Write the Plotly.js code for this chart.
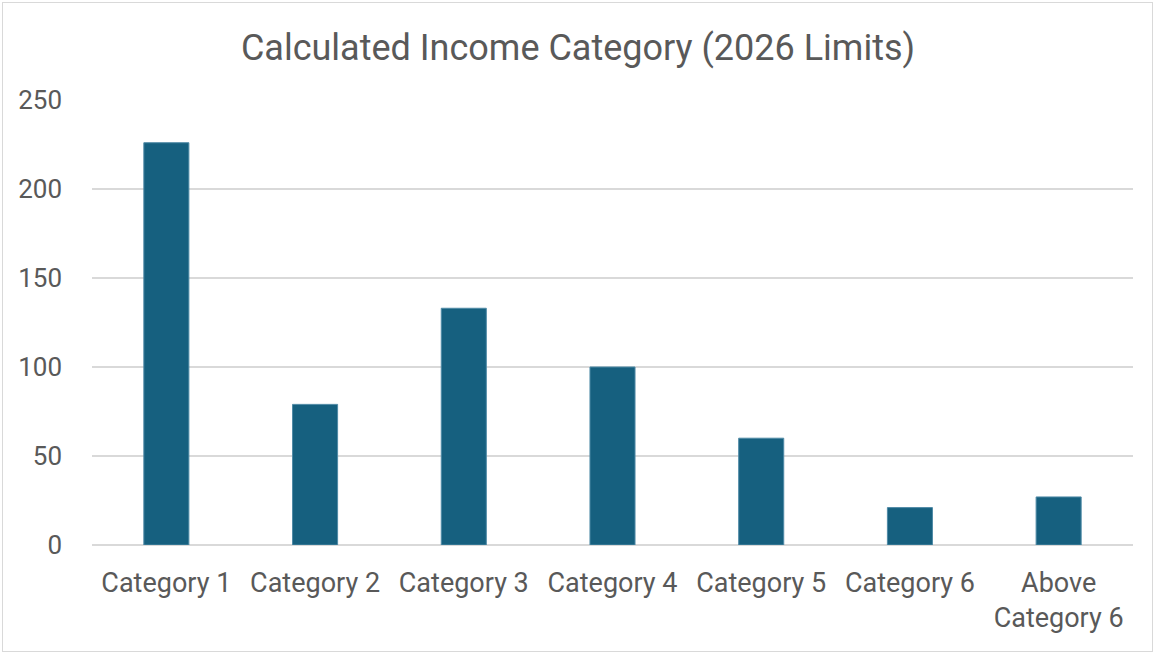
<!DOCTYPE html>
<html>
<head>
<meta charset="utf-8">
<script src="https://cdn.plot.ly/plotly-3.0.1.min.js"></script>
<style>
  html, body { margin: 0; padding: 0; background: #fff; }
  #frame { position: absolute; left: 2px; top: 2px; width: 1151px; height: 650px; border: 1px solid #d9d9d9; box-sizing: border-box; }
  #chart { position: absolute; left: 0; top: 0; width: 1156px; height: 654px; }
</style>
</head>
<body>
<div id="frame"></div>
<div id="chart"></div>
<script>
const categories = ["Category 1", "Category 2", "Category 3", "Category 4", "Category 5", "Category 6", "Above<br>Category 6"];
const counts = [226, 79, 133, 100, 60, 21, 27];
const yTicks = [0, 50, 100, 150, 200, 250];

const textColor = "#595959";
const fontFamily = "Roboto, 'Noto Sans', sans-serif";

const trace = {
  type: "bar",
  x: categories,
  y: counts,
  marker: { color: "#16607f", line: { color: "#4f8aa6", width: 1 } },
  hoverinfo: "x+y"
};

const layout = {
  width: 1156,
  height: 654,
  paper_bgcolor: "rgba(0,0,0,0)",
  plot_bgcolor: "rgba(0,0,0,0)",
  margin: { l: 92, r: 23, t: 100, b: 109 },
  bargap: 0.697,
  showlegend: false,
  title: {
    text: "Calculated Income Category (2026 Limits)",
    font: { family: fontFamily, size: 36, color: textColor },
    x: 0.5, xanchor: "center",
    y: 0.927, yanchor: "middle", yref: "container"
  },
  xaxis: {
    type: "category",
    tickfont: { family: fontFamily, size: 27, color: textColor },
    showgrid: false,
    showline: false,
    zeroline: false,
    ticks: "",
    ticklabelstandoff: 19
  },
  yaxis: {
    range: [0, 250],
    tickvals: yTicks,
    tickfont: { family: fontFamily, size: 26, color: textColor },
    showgrid: true,
    gridcolor: "#d9d9d9",
    gridwidth: 1.5,
    zeroline: true,
    zerolinecolor: "#d9d9d9",
    zerolinewidth: 1.5,
    showline: false,
    ticks: "",
    ticklabelstandoff: 29
  },
  font: { family: fontFamily, color: textColor }
};

Plotly.newPlot("chart", [trace], layout, { displayModeBar: false, staticPlot: true });
</script>
</body>
</html>
